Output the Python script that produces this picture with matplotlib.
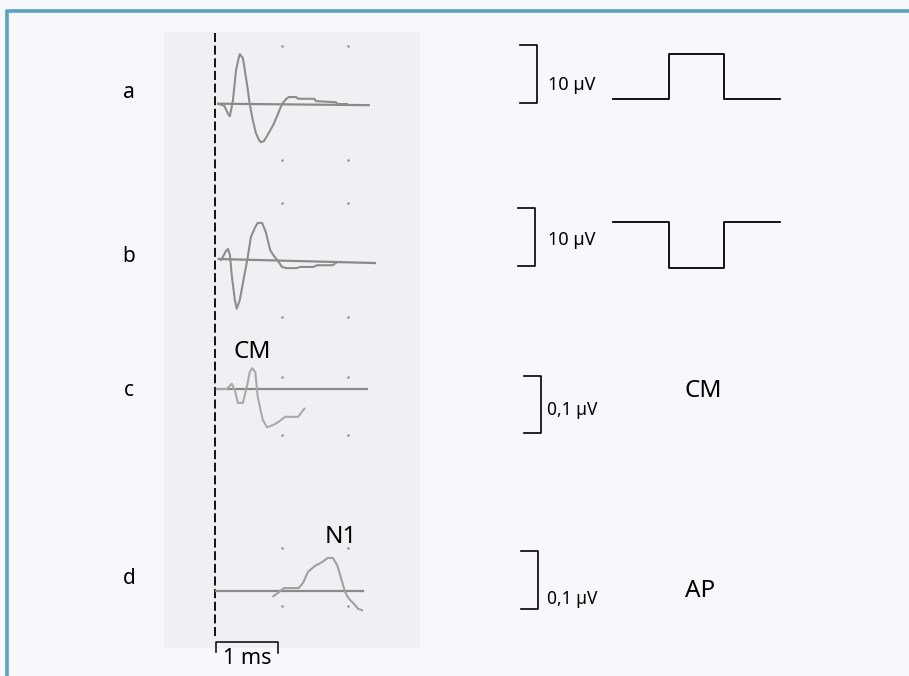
import matplotlib
matplotlib.use("Agg")
import matplotlib.pyplot as plt
from matplotlib.patches import Rectangle

W, H = 909, 676

# ---- data (time in ms, amplitude in µV) ----
# trace a : response to condensation click
a_t = [0.06, 0.15, 0.21, 0.24, 0.29, 0.34, 0.39, 0.40, 0.45, 0.48, 0.53, 0.56,
       0.61, 0.66, 0.71, 0.74, 0.79, 0.85, 0.94, 1.02, 1.08, 1.15, 1.19, 1.31,
       1.34, 1.60, 1.63, 1.95, 1.98, 2.13]
a_v = [0.0, -0.3, -1.7, -2.1, 0.7, 5.9, 8.3, 8.6, 7.9, 5.9, 2.4, 0.0,
       -2.8, -5.0, -6.2, -6.6, -6.4, -5.3, -3.6, -1.6, 0.0, 0.9, 1.2, 1.2,
       0.9, 0.9, 0.5, 0.3, 0.0, 0.0]
# trace b : response to rarefaction click
b_t = [0.10, 0.18, 0.21, 0.24, 0.27, 0.32, 0.35, 0.40, 0.45, 0.52, 0.58, 0.65,
       0.69, 0.76, 0.82, 0.89, 0.95, 1.02, 1.08, 1.15, 1.32, 1.37, 1.58, 1.65,
       1.90, 1.97]
b_v = [0.0, 1.6, 1.9, 0.9, -2.6, -6.9, -8.4, -6.9, -4.0, 0.0, 4.0, 5.7,
       6.4, 6.4, 4.8, 1.7, 0.7, -0.2, -1.2, -1.4, -1.4, -1.2, -1.2, -0.9,
       -0.9, -0.35]
# trace c : CM (a - b)
c_t = [0.03, 0.19, 0.27, 0.32, 0.37, 0.45, 0.52, 0.56, 0.60, 0.65, 0.69, 0.77,
       0.84, 0.94, 1.02, 1.13, 1.34, 1.44]
c_v = [0.0, 0.0, 0.009, -0.002, -0.024, -0.024, 0.007, 0.029, 0.036, 0.029,
       -0.014, -0.053, -0.066, -0.062, -0.057, -0.048, -0.048, -0.034]
# trace d : AP (a + b)
d_t = [0.94, 1.02, 1.11, 1.35, 1.42, 1.50, 1.61, 1.73, 1.82, 1.90, 1.97, 2.05,
       2.10, 2.15, 2.23, 2.31, 2.37]
d_v = [-0.009, -0.003, 0.005, 0.005, 0.014, 0.033, 0.043, 0.050, 0.057, 0.057,
       0.045, 0.016, -0.002, -0.012, -0.021, -0.031, -0.033]

# baselines (start/end time, start/end level)
a_base = ([0.05, 2.48], [0.05, -0.2])
b_base = ([0.06, 2.58], [0.17, -0.52])
c_base = ([0.03, 2.45], [0.0, 0.0])
d_base = ([0.02, 2.39], [0.0, 0.0])

# recording paper grid dots
grid_t = [1.08, 2.14]
a_grid = [10.0, -9.7]
b_grid = [9.8, -9.8]
c_grid = [0.021, -0.079]
d_grid = [0.074, -0.026]

# stimulus shapes
stim_t = [0, 1, 1, 2, 2, 3]
stim_pos = [0, 0, 1, 1, 0, 0]
stim_neg = [0, 0, -1, -1, 0, 0]

row_labels = ["a", "b", "c", "d"]

# ---- figure ----
fig = plt.figure(figsize=(W / 100, H / 100), dpi=100)
fig.patch.set_facecolor("#f7f8fc")
ax = fig.add_axes([0, 0, 1, 1])
ax.set_xlim(0, W)
ax.set_ylim(H, 0)
ax.axis("off")

font = ["Noto Sans", "DejaVu Sans"]

# frame (top + left)
ax.plot([6, W], [11, 11], color="#5aa2c0", lw=2.6, solid_capstyle="butt")
ax.plot([7, 7], [10, H], color="#5aa2c0", lw=2.6, solid_capstyle="butt")

# recording panel
ax.add_patch(Rectangle((164, 32), 256, 616, facecolor="#eef0f3", edgecolor="none"))

# stimulus onset (dashed) and 1 ms bar
ax.plot([215, 215], [33, 638], color="black", lw=1.3, dashes=(5, 2))
ax.plot([216, 216, 278, 278], [652, 642, 642, 653], color="black", lw=1.1)
ax.text(247, 658, "1 ms", fontsize=15.5, family=font, ha="center", va="center")


def row_axes(base_y, px_per_unit, x0=215, px_per_x=62.0):
    r = fig.add_axes([0, 0, 1, 1])
    r.set_xlim(-x0 / px_per_x, (W - x0) / px_per_x)
    r.set_ylim((base_y - H) / px_per_unit, base_y / px_per_unit)
    r.axis("off")
    r.patch.set_alpha(0)
    return r


rows = [
    (104, 5.8, a_t, a_v, a_base, a_grid, "#8d8d8d"),
    (260, 5.8, b_t, b_v, b_base, b_grid, "#8d8d8d"),
    (389, 580.0, c_t, c_v, c_base, c_grid, "#a9a9a9"),
    (591, 580.0, d_t, d_v, d_base, d_grid, "#a0a0a0"),
]
for base_y, ppu, t, v, base, grid, col in rows:
    r = row_axes(base_y, ppu)
    r.plot(base[0], base[1], color="#8a8a8a", lw=1.6)
    r.plot(t, v, color=col, lw=1.5)
    for g in grid:
        r.plot(grid_t, [g, g], ls="none", marker="o", ms=1.8, mew=0, color="#8f8f8f")

# row letters
for lab, y in zip(row_labels, [92, 257, 390, 578]):
    ax.text(129, y, lab, fontsize=15, family=font, ha="center", va="center")

ax.text(252, 352, "CM", fontsize=17.5, family=font, ha="center", va="center")
ax.text(341, 537, "N1", fontsize=17.5, family=font, ha="center", va="center")

# scale brackets
brackets = [(520, 537, 45, 103, "10 µV", 548, 85, 13),
            (518, 535, 208, 266, "10 µV", 548, 240, 13),
            (524, 541, 376, 433, "0,1 µV", 547, 410, 12.5),
            (521, 538, 551, 609, "0,1 µV", 547, 599, 12.5)]
for xl, xr, yt, yb, txt, tx, ty, fs in brackets:
    ax.plot([xl, xr, xr, xl], [yt, yt, yb, yb], color="black", lw=1.2)
    ax.text(tx, ty, txt, fontsize=fs, family=font, ha="left", va="center")

# stimulus waveforms
sa = row_axes(99, 45.0, x0=613, px_per_x=55.7)
sa.plot(stim_t, stim_pos, color="black", lw=1.3)
sb = row_axes(222, 46.0, x0=613, px_per_x=55.7)
sb.plot(stim_t, stim_neg, color="black", lw=1.3)

ax.text(703, 391, "CM", fontsize=17.5, family=font, ha="center", va="center")
ax.text(700, 591, "AP", fontsize=17.5, family=font, ha="center", va="center")

fig.savefig("out.png", dpi=100, facecolor=fig.get_facecolor())
